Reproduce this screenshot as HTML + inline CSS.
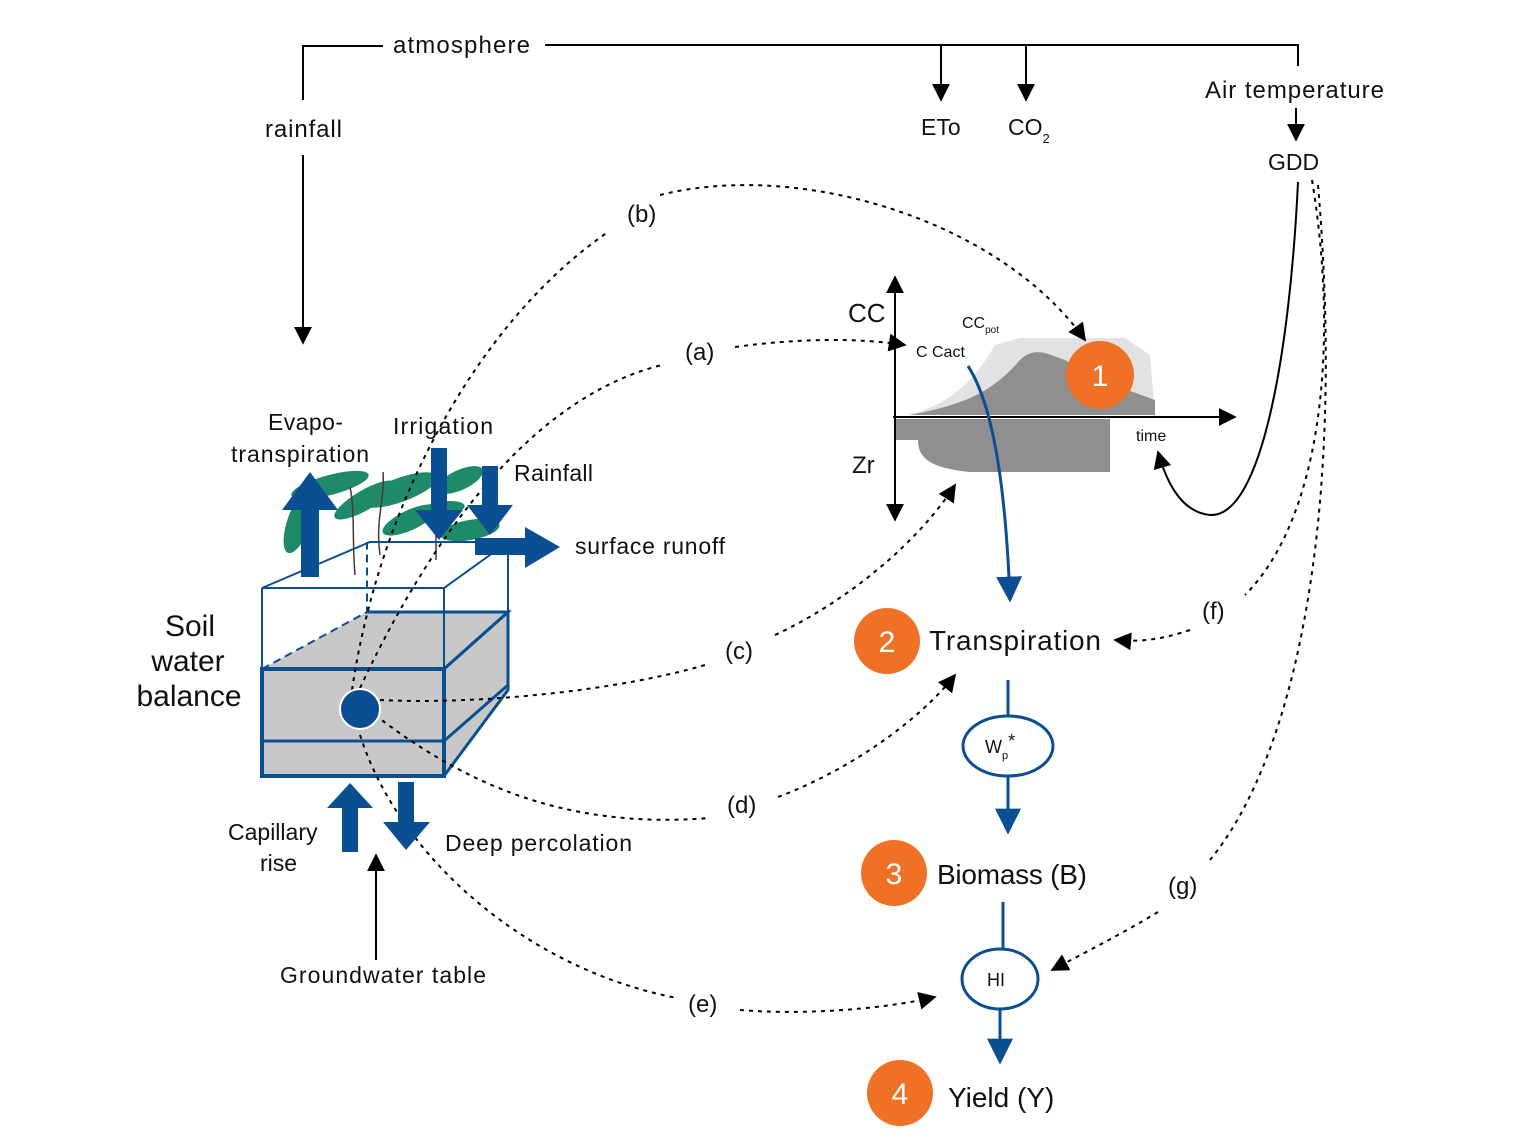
<!DOCTYPE html>
<html><head><meta charset="utf-8"><style>html,body{margin:0;padding:0;background:#fff}svg{display:block}text{font-family:"Liberation Sans",sans-serif;fill:#111}</style></head><body>
<svg width="1522" height="1142" viewBox="0 0 1522 1142" xmlns="http://www.w3.org/2000/svg">
<defs>
<marker id="a" viewBox="0 0 10 10" refX="9" refY="5" markerWidth="18" markerHeight="18" orient="auto" markerUnits="userSpaceOnUse"><path d="M0,0 L10,5 L0,10 Z" fill="#000"/></marker>
<marker id="ab" viewBox="0 0 10 10" refX="9" refY="5" markerWidth="26" markerHeight="26" orient="auto" markerUnits="userSpaceOnUse"><path d="M0,0 L10,5 L0,10 Z" fill="#0a4f91"/></marker>
</defs>
<g stroke="#000" stroke-width="2" fill="none">
<path d="M303,100 V46 H383"/><path d="M545,45 H1298 V66"/>
<path d="M941,45 V100" marker-end="url(#a)"/><path d="M1026,45 V100" marker-end="url(#a)"/>
<path d="M1296,108 V140" marker-end="url(#a)"/>
<path d="M303,155 V343" marker-end="url(#a)"/>
<path d="M376,960 V855" marker-end="url(#a)"/>
<path d="M1298,182 C1290,350 1262,518 1210,515 C1180,512 1166,480 1158,452" marker-end="url(#a)"/>
<path d="M895,520 V277" marker-end="url(#a)"/><path d="M895,300 V520" marker-end="url(#a)"/>
<path d="M895,417 H1235" marker-end="url(#a)"/>
</g>
<text x="393" y="53" font-size="24" textLength="137">atmosphere</text>
<text x="265" y="137" font-size="24" textLength="77">rainfall</text>
<text x="921" y="135" font-size="23">ETo</text>
<text x="1008" y="135" font-size="23">CO<tspan font-size="13" dy="8">2</tspan></text>
<text x="1205" y="98" font-size="24" textLength="179">Air temperature</text>
<text x="1268" y="170" font-size="23">GDD</text>
<!-- chart -->
<path d="M907,415 C950,405 975,380 995,345 L1020,338 H1125 L1150,355 L1155,415 Z" fill="#e2e2e2"/>
<path d="M910,415 C960,405 990,395 1020,360 C1035,345 1050,355 1065,360 L1100,380 L1155,400 V415 Z" fill="#8f8f8f"/>
<path d="M896,419 H1110 V472 H970 C930,468 918,458 918,440 H896 Z" fill="#8f8f8f"/>
<path d="M893,417 H1220" stroke="#000" stroke-width="2"/>
<circle cx="1100" cy="375" r="34" fill="#f07026"/>
<text x="1100" y="386" font-size="30" style="fill:#fff" text-anchor="middle">1</text>
<text x="848" y="322" font-size="26">CC</text>
<text x="962" y="328" font-size="16">CC<tspan font-size="10" dy="5">pot</tspan></text>
<text x="916" y="357" font-size="16">C Cact</text>
<text x="852" y="473" font-size="24">Zr</text>
<text x="1136" y="441" font-size="16">time</text>
<path d="M968,366 C990,400 1005,470 1010,600" stroke="#0a4f91" stroke-width="3" fill="none" marker-end="url(#ab)"/>
<g font-size="24">
<text x="627" y="222">(b)</text><text x="685" y="360">(a)</text><text x="725" y="659">(c)</text>
<text x="727" y="813">(d)</text><text x="688" y="1012">(e)</text><text x="1202" y="619">(f)</text><text x="1168" y="894">(g)</text>
</g>
<!-- right column -->
<g fill="#f07026"><circle cx="887" cy="641" r="33"/><circle cx="894" cy="873" r="33"/><circle cx="900" cy="1093" r="33"/></g>
<g font-size="30" text-anchor="middle"><text x="887" y="652" style="fill:#fff">2</text><text x="894" y="884" style="fill:#fff">3</text><text x="900" y="1104" style="fill:#fff">4</text></g>
<text x="929" y="650" font-size="28" textLength="172">Transpiration</text>
<text x="937" y="884" font-size="28" textLength="150">Biomass (B)</text>
<text x="948" y="1107" font-size="28">Yield (Y)</text>
<g stroke="#0a4f91" stroke-width="3" fill="none">
<path d="M1008,680 V716"/><ellipse cx="1008" cy="746" rx="45" ry="30" fill="#fff"/>
<path d="M1008,776 V832" marker-end="url(#ab)"/>
<path d="M1003,902 V949"/><ellipse cx="1000" cy="979" rx="38" ry="30" fill="#fff"/>
<path d="M1000,1009 V1062" marker-end="url(#ab)"/>
</g>
<text x="985" y="753" font-size="18">W<tspan font-size="11" dy="6">p</tspan><tspan dy="-12">*</tspan></text>
<text x="987" y="986" font-size="18">HI</text>
<!-- plants -->
<g fill="#1f8a6a">
<ellipse cx="330" cy="485" rx="40" ry="10" transform="rotate(-15 330 485)"/>
<ellipse cx="300" cy="520" rx="12" ry="35" transform="rotate(20 300 520)"/>
<ellipse cx="365" cy="500" rx="35" ry="10" transform="rotate(-30 365 500)"/>
<ellipse cx="400" cy="490" rx="40" ry="12" transform="rotate(-20 400 490)"/>
<ellipse cx="410" cy="520" rx="30" ry="10" transform="rotate(-25 410 520)"/>
<ellipse cx="460" cy="480" rx="25" ry="10" transform="rotate(-25 460 480)"/>
<ellipse cx="470" cy="530" rx="30" ry="10" transform="rotate(-10 470 530)"/>
<ellipse cx="440" cy="510" rx="25" ry="8" transform="rotate(-10 440 510)"/>
</g>
<g stroke="#4a3a30" stroke-width="1.5" fill="none"><path d="M350,487 C355,510 352,540 355,575"/><path d="M383,472 C385,500 375,520 380,555"/><path d="M436,520 V560"/></g>
<!-- box -->
<path d="M262,669 L367,612 H508 L444,669 Z" fill="#c8c8c8"/>
<path d="M444,669 L508,612 V690 L444,776 Z" fill="#c8c8c8"/>
<rect x="262" y="669" width="182" height="107" fill="#c8c8c8"/>
<g stroke="#0a4f91" fill="none">
<path d="M262,588 L370,542 H508 L444,588 Z M262,588 V669 M444,588 V669 M508,542 V612" stroke-width="2"/>
<path d="M262,669 L367,612 V542" stroke-width="2" stroke-dasharray="8,5"/>
<path d="M367,612 H508 L444,669" stroke-width="3"/>
<rect x="262" y="669" width="182" height="107" stroke-width="4"/>
<path d="M262,741 H444 L508,685 M444,669 L508,612 V690 L444,776" stroke-width="3"/>
</g>
<!-- dotted connectors -->
<g stroke="#000" stroke-width="2" fill="none" stroke-dasharray="4,5">
<path d="M352,690 C380,500 480,320 608,232"/>
<path d="M660,195 C800,160 1000,220 1085,340" marker-end="url(#a)"/>
<path d="M360,688 C420,560 520,400 662,365"/>
<path d="M735,347 C800,338 860,338 905,345" marker-end="url(#a)"/>
<path d="M380,700 C480,705 620,690 705,665"/>
<path d="M775,635 C850,600 920,540 955,485" marker-end="url(#a)"/>
<path d="M375,715 C460,780 560,830 710,818"/>
<path d="M778,797 C850,770 920,720 955,675" marker-end="url(#a)"/>
<path d="M360,735 C400,860 530,970 677,998"/>
<path d="M740,1010 C800,1015 880,1010 935,997" marker-end="url(#a)"/>
<path d="M1312,180 C1340,350 1320,520 1245,595"/>
<path d="M1190,630 C1160,640 1140,642 1115,640" marker-end="url(#a)"/>
<path d="M1318,185 C1345,500 1300,750 1210,860"/>
<path d="M1158,912 C1120,935 1080,955 1052,970" marker-end="url(#a)"/>
</g>
<circle cx="360" cy="709" r="20" fill="#0a4f91" stroke="#fff" stroke-width="2"/>
<!-- thick arrows -->
<g fill="#0a4f91">
<path d="M301,577 V510 H282 L310,472 L338,510 H319 V577 Z"/>
<path d="M431,448 H447 V510 H463 L439,540 L415,510 H431 Z"/>
<path d="M482,466 H498 V505 H513 L490,535 L467,505 H482 Z"/>
<path d="M475,538 H525 V527 L560,547 L525,568 V555 H475 Z"/>
<path d="M342,852 V808 H327 L350,783 L373,808 H358 V852 Z"/>
<path d="M398,782 H414 V822 H430 L406,850 L383,822 H398 Z"/>
</g>
<g font-size="23">
<text x="268" y="430" textLength="75">Evapo-</text><text x="231" y="462" textLength="138">transpiration</text>
<text x="393" y="434" textLength="100">Irrigation</text><text x="514" y="481" textLength="79">Rainfall</text>
<text x="575" y="554" textLength="150">surface runoff</text>
<text x="228" y="840">Capillary</text><text x="260" y="871">rise</text>
<text x="445" y="851" textLength="187">Deep percolation</text>
<text x="280" y="983" textLength="206">Groundwater table</text>
</g>
<g font-size="30" text-anchor="middle"><text x="190" y="636">Soil</text><text x="188" y="671">water</text><text x="189" y="706">balance</text></g>
</svg>
</body></html>
